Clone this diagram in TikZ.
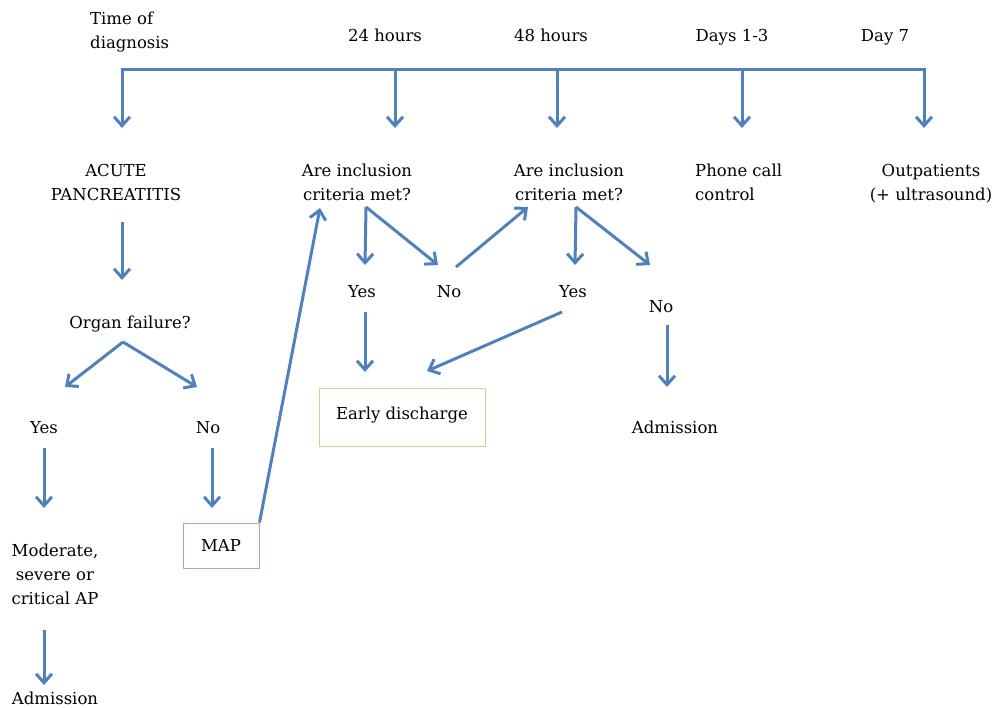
\documentclass[tikz,border=0pt]{standalone}
\usepackage{fontspec}
\setmainfont{DejaVu Serif}
\usepackage{tikz}
\usetikzlibrary{arrows.meta}
\definecolor{flowblue}{RGB}{79,129,189}
\definecolor{mapred}{RGB}{217,150,148}
\definecolor{edgreen}{RGB}{195,214,155}

\begin{document}
\begin{tikzpicture}[
 x=1pt, y=-1pt,
 font=\fontsize{16.5}{24}\selectfont,
    T/.style = {inner sep=0pt, align=center},% plain text nodes
    B/.style = {rectangle, draw, line width=1pt, inner sep=0pt},% boxed nodes
 line/.style = {draw=flowblue, line width=3pt},
  arr/.style = {line, -{Straight Barb[length=9pt,width=16pt]}},
                        ]
\useasboundingbox (0,0) rectangle (995,708);
% time line and its labels
\node[T, align=left, anchor=west] (diag) at (90,32) {Time of\\diagnosis};
\node[T] (h24) at (385,35) {24 hours};
\node[T] (h48) at (551,35) {48 hours};
\node[T] (d13) at (732,37) {Days 1-3};
\node[T] (d7)  at (885,37) {Day 7};
\foreach \n/\x in {t1/122, t2/395, t3/557, t4/742, t5/924}% <-- ticks on the line
    \coordinate (\n) at (\x,70);
\draw[line, line cap=rect] (t1) -- (t5);
% second row
\node[T] (acute)  at (116,182) {ACUTE\\PANCREATITIS};
\node[T] (q1)     at (357,182) {Are inclusion\\criteria met?};
\node[T] (q2)     at (569,182) {Are inclusion\\criteria met?};
\node[T, align=left, anchor=west] (phone) at (695,182) {Phone call\\control};
\node[T] (outpat) at (931,184) {Outpatients\\(+ ultrasound)};
\foreach \t/\n/\dx/\dy in {t1/acute/6/-54, t2/q1/38/-54, t3/q2/-12/-54, t5/outpat/-7/-56}
    \draw[arr] (\t) -- ([shift={(\dx,\dy)}]\n.center);
\draw[arr] (t4) -- ([shift={(47,-54)}]phone.west);
% left branch
\node[T] (organ) at (130,324) {Organ failure?};
\node[T] (yes1)  at (44,428)  {Yes};
\node[T] (no1)   at (208,428) {No};
\node[T] (moder) at (55,574)  {Moderate,\\severe or\\critical AP};
\node[T] (adm1)  at (55,698)  {Admission};
\node[B, draw=mapred, minimum width=76pt, minimum height=45pt] (map) at (221,545.5) {MAP\hspace{8pt}};
\draw[arr] ([shift={(6,40)}]acute.center) -- ([shift={(-8,-44)}]organ.center);
\coordinate (ofork) at ([shift={(-7,18)}]organ.center);
\draw[arr] (ofork) -- ([shift={(21,-41)}]yes1.center);
\draw[arr] (ofork) -- ([shift={(-11,-41)}]no1.center);
\draw[arr] ([shift={(0,20)}]yes1.center) -- ([shift={(-11,-66)}]moder.center);
\draw[arr] ([shift={(4,20)}]no1.center) -- ([shift={(-9,-37.5)}]map.center);
\draw[arr] ([shift={(-11,56)}]moder.center) -- ([shift={(-11,-13)}]adm1.center);
\draw[arr] (map.north east) -- ([shift={(-37,26)}]q1.center);
% 24 and 48 hours
\node[T] (yes2) at (362,292) {Yes};
\node[T] (no2)  at (449,292) {No};
\node[T] (yes3) at (573,292) {Yes};
\node[T] (no3)  at (661,307) {No};
\node[T] (adm2) at (675,427) {Admission};
\node[B, draw=edgreen, minimum width=166pt, minimum height=58pt] (early) at (402,417) {\raisebox{8pt}{Early discharge}};
\coordinate (qfork1) at ([shift={(9,25)}]q1.center);
\coordinate (qfork2) at ([shift={(7,25)}]q2.center);
\draw[arr] (qfork1) -- ([shift={(3,-27)}]yes2.center);
\draw[arr] (qfork1) -- ([shift={(-11,-27)}]no2.center);
\draw[arr] ([shift={(7,-25)}]no2.center) -- ([shift={(-41,25)}]q2.center);
\draw[arr] (qfork2) -- ([shift={(2,-27)}]yes3.center);
\draw[arr] (qfork2) -- ([shift={(-11,-42)}]no3.center);
\draw[arr] ([shift={(3,20)}]yes2.center) -- ([shift={(-37,-45)}]early.center);
\draw[arr] ([shift={(-11,20)}]yes3.center) -- ([shift={(25,-46)}]early.center);
\draw[arr] ([shift={(6,18)}]no3.center) -- ([shift={(-8,-40)}]adm2.center);
\end{tikzpicture}
\end{document}
